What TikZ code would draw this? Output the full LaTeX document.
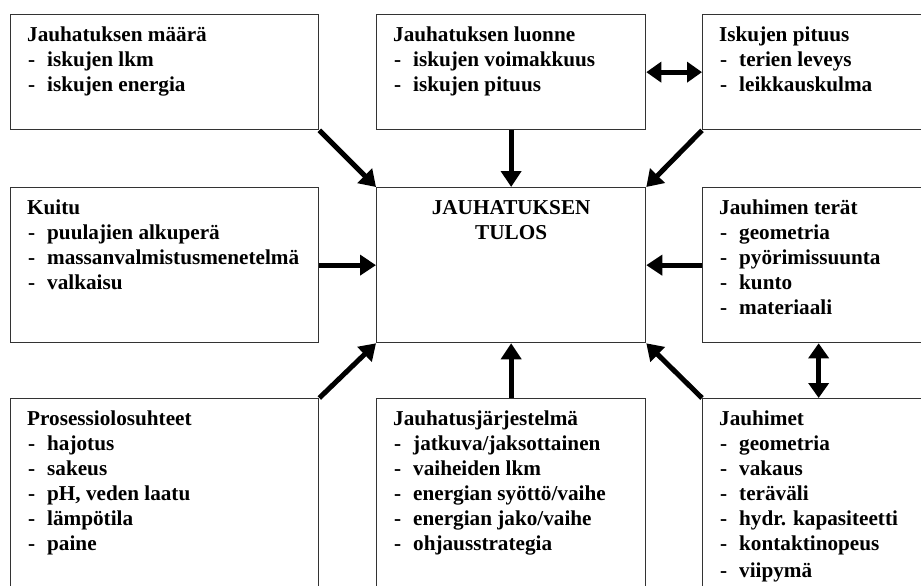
\documentclass[tikz,border=0pt]{standalone}
\usepackage{fontspec}
\setmainfont{Liberation Serif}
\usetikzlibrary{arrows.meta}

\newcommand{\leftw}{308}
\newcommand{\midw}{269}
\newcommand{\rightw}{232}
\newcommand{\toph}{115}
\newcommand{\midh}{155}
\newcommand{\both}{200}
\newcommand{\itm}[1]{\\\makebox[20pt][l]{\hspace{1pt}-}#1}

\tikzset{
  frame/.style={draw=black!80, line width=1.3pt, anchor=north west, inner sep=0pt},
  boxtext/.style={anchor=north west, align=left, inner sep=0pt,
    font=\bfseries\fontsize{21.2}{25}\selectfont},
  arr/.style={-{Triangle[length=16pt,width=20pt]}, line width=5pt},
  dblarr/.style={{Triangle[length=15pt,width=20pt]}-{Triangle[length=15pt,width=20pt]},
    line width=5pt}
}

\begin{document}
\begin{tikzpicture}[x=1pt,y=-1pt]
  \path[use as bounding box, fill=white] (0,0) rectangle (921,586);
  \clip (0,0) rectangle (921,586);

  % frames
  \foreach \name/\x/\y/\w/\h in {maara/10/14/\leftw/\toph, luonne/376/14/\midw/\toph,
      pituus/702/14/\rightw/\toph, kuitu/10/187/\leftw/\midh, tulos/376/187/\midw/\midh,
      terat/702/187/\rightw/\midh, proses/10/398/\leftw/\both, jarj/376/398/\midw/\both,
      jauhimet/702/398/\rightw/\both}
    \node[frame, minimum width=\w, minimum height=\h] (\name) at (\x,\y) {};

  % texts
  \node[boxtext] (maara-txt) at ([xshift=17pt,yshift=-13pt]maara.north west)
    {Jauhatuksen määrä\itm{iskujen lkm}\itm{iskujen energia}};
  \node[boxtext] (luonne-txt) at ([xshift=17pt,yshift=-13pt]luonne.north west)
    {Jauhatuksen luonne\itm{iskujen voimakkuus}\itm{iskujen pituus}};
  \node[boxtext] (pituus-txt) at ([xshift=17pt,yshift=-13pt]pituus.north west)
    {Iskujen pituus\itm{terien leveys}\itm{leikkauskulma}};
  \node[boxtext] (kuitu-txt) at ([xshift=17pt,yshift=-13pt]kuitu.north west)
    {Kuitu\itm{puulajien alkuperä}\itm{massanvalmistusmenetelmä}\itm{valkaisu}};
  \node[boxtext, anchor=north, align=center] (tulos-txt) at ([yshift=-13pt]tulos.north)
    {JAUHATUKSEN\\TULOS};
  \node[boxtext] (terat-txt) at ([xshift=17pt,yshift=-13pt]terat.north west)
    {Jauhimen terät\itm{geometria}\itm{pyörimissuunta}\itm{kunto}\itm{materiaali}};
  \node[boxtext] (proses-txt) at ([xshift=17pt,yshift=-13pt]proses.north west)
    {Prosessiolosuhteet\itm{hajotus}\itm{sakeus}\itm{pH, veden laatu}\itm{lämpötila}\itm{paine}};
  \node[boxtext] (jarj-txt) at ([xshift=17pt,yshift=-13pt]jarj.north west)
    {Jauhatusjärjestelmä\itm{jatkuva/jaksottainen}\itm{vaiheiden lkm}%
     \itm{energian syöttö/vaihe}\itm{energian jako/vaihe}\itm{ohjausstrategia}};
  \node[boxtext] (jauhimet-txt) at ([xshift=17pt,yshift=-13pt]jauhimet.north west)
    {Jauhimet\itm{geometria}\itm{vakaus}\itm{teräväli}\itm{hydr. kapasiteetti}%
     \itm{kontaktinopeus}\\[2pt]\makebox[20pt][l]{\hspace{1pt}-}viipymä};

  % arrows into the result
  \foreach \from/\to in {maara.south east/tulos.north west, luonne.south/tulos.north,
      pituus.south west/tulos.north east, kuitu.east/tulos.west, terat.west/tulos.east,
      proses.north east/tulos.south west, jarj.north/tulos.south,
      jauhimet.north west/tulos.south east}
    \draw[arr] (\from) -- (\to);

  \draw[dblarr] (luonne.east) -- (pituus.west);
  \draw[dblarr] (terat.south) -- (jauhimet.north);
\end{tikzpicture}
\end{document}
